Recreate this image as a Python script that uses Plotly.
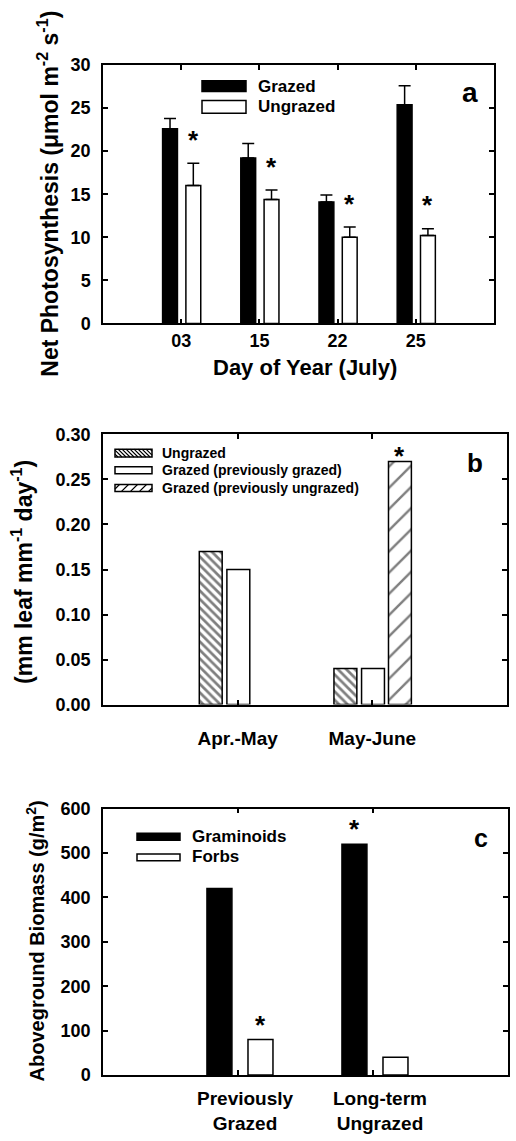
import plotly.graph_objects as go

W, H = 516, 1141
FONT = "Liberation Sans, Arial, sans-serif"

# ---------------- data ----------------
# Panel a: net photosynthesis
days = ["03", "15", "22", "25"]
grazed_a = [22.6, 19.2, 14.1, 25.4]
grazed_a_err = [1.2, 1.7, 0.8, 2.2]
ungrazed_a = [16.0, 14.4, 10.0, 10.2]
ungrazed_a_err = [2.6, 1.1, 1.2, 0.8]
star_a = [True, True, True, True]          # significance mark over ungrazed bars

# Panel b: leaf elongation
periods = ["Apr.-May", "May-June"]
ungrazed_b = [0.17, 0.04]
grazed_prev_grazed_b = [0.15, 0.04]
grazed_prev_ungrazed_b = [None, 0.27]
star_b = [False, True]                      # over "grazed (previously ungrazed)"

# Panel c: aboveground biomass
sites = ["Previously<br>Grazed", "Long-term<br>Ungrazed"]
graminoids_c = [420, 520]
forbs_c = [80, 40]
star_gram_c = [False, True]
star_forbs_c = [True, False]

legend_a = ["Grazed", "Ungrazed"]
legend_b = ["Ungrazed", "Grazed (previously grazed)", "Grazed (previously ungrazed)"]
legend_c = ["Graminoids", "Forbs"]


def X(px):
    return px / W


def Y(py):
    return 1 - py / H


fig = go.Figure()

bar_line = dict(color="black", width=1.5)
err_style = dict(type="data", symmetric=False, color="black", thickness=1.5, width=6)

# ---- panel a ----
fig.add_trace(go.Bar(
    x=days, y=grazed_a, width=0.19, offset=-0.238,
    marker=dict(color="black", line=bar_line),
    error_y=dict(array=grazed_a_err, arrayminus=[0] * len(days), **err_style),
    xaxis="x", yaxis="y", showlegend=False))
fig.add_trace(go.Bar(
    x=days, y=ungrazed_a, width=0.19, offset=0.06,
    marker=dict(color="white", line=bar_line),
    error_y=dict(array=ungrazed_a_err, arrayminus=[0] * len(days), **err_style),
    xaxis="x", yaxis="y", showlegend=False))

# ---- panel b ----
fig.add_trace(go.Bar(
    x=periods, y=ungrazed_b, width=0.17, offset=-0.285,
    marker=dict(color="white", line=bar_line,
                pattern=dict(shape="\\", size=6, solidity=0.45, fgcolor="black", bgcolor="white")),
    xaxis="x2", yaxis="y2", showlegend=False))
fig.add_trace(go.Bar(
    x=periods, y=grazed_prev_grazed_b, width=0.17, offset=-0.08,
    marker=dict(color="white", line=bar_line),
    xaxis="x2", yaxis="y2", showlegend=False))
fig.add_trace(go.Bar(
    x=periods, y=grazed_prev_ungrazed_b, width=0.17, offset=0.12,
    marker=dict(color="white", line=bar_line,
                pattern=dict(shape="/", size=15, solidity=0.16, fgcolor="black", bgcolor="white")),
    xaxis="x2", yaxis="y2", showlegend=False))

# ---- panel c ----
fig.add_trace(go.Bar(
    x=sites, y=graminoids_c, width=0.185, offset=-0.23,
    marker=dict(color="black", line=bar_line),
    xaxis="x3", yaxis="y3", showlegend=False))
fig.add_trace(go.Bar(
    x=sites, y=forbs_c, width=0.185, offset=0.074,
    marker=dict(color="white", line=bar_line),
    xaxis="x3", yaxis="y3", showlegend=False))

tickfont = dict(family=FONT, size=18, color="black", weight="bold")
axis_common = dict(showline=True, linecolor="black", linewidth=1.5, mirror="ticks",
                   ticks="inside", ticklen=5, tickwidth=1.5, tickcolor="black",
                   showgrid=False, zeroline=False, tickfont=tickfont, fixedrange=True)

fig.update_layout(
    width=W, height=H, margin=dict(l=0, r=0, t=0, b=0),
    paper_bgcolor="white", plot_bgcolor="white", barmode="overlay",
    xaxis=dict(domain=[X(103), X(494)], anchor="y", type="category", range=[-1, 4],
               **axis_common),
    yaxis=dict(domain=[Y(319), Y(56)], anchor="x", range=[0, 30], dtick=5,
               ticklabelstandoff=7, **axis_common),
    xaxis2=dict(domain=[X(103), X(507)], anchor="y2", type="category", range=[-1, 2],
                ticklabelstandoff=16,
                **{**axis_common, "tickfont": dict(family=FONT, size=19, color="black", weight="bold")}),
    yaxis2=dict(domain=[Y(707), Y(432)], anchor="x2", range=[0, 0.30], dtick=0.05, tickformat=".2f",
                ticklabelstandoff=7, **axis_common),
    xaxis3=dict(domain=[X(103), X(508)], anchor="y3", type="category", range=[-1, 2],
                showticklabels=False, **axis_common),
    yaxis3=dict(domain=[Y(1084), Y(813)], anchor="x3", range=[0, 600], dtick=100,
                ticklabelstandoff=7, **axis_common),
)

ann = []
shapes = []


def text(x, y, s, size, bold=True, xanchor="center", yanchor="middle", angle=0):
    ann.append(dict(x=X(x), y=Y(y), xref="paper", yref="paper", text=s, showarrow=False,
                    xanchor=xanchor, yanchor=yanchor, textangle=angle,
                    font=dict(family=FONT, size=size, color="black",
                              weight="bold" if bold else "normal")))


def star(xref, yref, x, y, size=26):
    ann.append(dict(x=x, y=y, xref=xref, yref=yref, text="*", showarrow=False,
                    xanchor="center", yanchor="middle", yshift=-6,
                    font=dict(family=FONT, size=size, color="black", weight="bold")))


def hatch(x0, x1, y0, y1, step, direction):
    parts = []
    if direction == "\\":
        c = (y0 - x1) + step / 2
        while c < y1 - x0:
            xa, xb = max(x0, y0 - c), min(x1, y1 - c)
            if xb > xa:
                parts.append(f"M{X(xa):.5f},{Y(xa + c):.5f} L{X(xb):.5f},{Y(xb + c):.5f}")
            c += step
    else:
        c = (x0 + y0) + step / 2
        while c < x1 + y1:
            xa, xb = max(x0, c - y1), min(x1, c - y0)
            if xb > xa:
                parts.append(f"M{X(xa):.5f},{Y(c - xa):.5f} L{X(xb):.5f},{Y(c - xb):.5f}")
            c += step
    shapes.append(dict(type="path", xref="paper", yref="paper", path=" ".join(parts),
                       line=dict(color="black", width=1.2)))


def swatch(x0, x1, y0, y1, fill, pattern=None, step=4):
    shapes.append(dict(type="rect", xref="paper", yref="paper", x0=X(x0), x1=X(x1), y0=Y(y1), y1=Y(y0),
                       fillcolor=fill, line=dict(color="black", width=1.5)))
    if pattern:
        hatch(x0, x1, y0, y1, step, pattern)


# stars, panel a
for i, s in enumerate(star_a):
    if s:
        star("x", "y", i + 0.155, ungrazed_a[i] + ungrazed_a_err[i] + 3.4)
# stars, panel b
for i, s in enumerate(star_b):
    if s:
        star("x2", "y2", i + 0.205, grazed_prev_ungrazed_b[i] + 0.0125)
# stars, panel c
for i, s in enumerate(star_gram_c):
    if s:
        star("x3", "y3", i - 0.1375, graminoids_c[i] + 47)
for i, s in enumerate(star_forbs_c):
    if s:
        star("x3", "y3", i + 0.1665, forbs_c[i] + 47)

# panel c category labels (two lines each)
for i, lab in enumerate(sites):
    ann.append(dict(x=i, y=Y(1121), xref="x3", yref="paper", text=lab, showarrow=False,
                    xanchor="center", yanchor="middle", xshift=7,
                    font=dict(family=FONT, size=19, color="black", weight="bold")))

# axis titles
text(48, 187, "Net Photosynthesis (μmol m<sup>-2</sup> s<sup>-1</sup>)", 23, angle=-90)
text(305, 364, "Day of Year (July)", 22)
text(22, 572, "(mm leaf mm<sup>-1</sup> day<sup>-1</sup>)", 23, angle=-90)
text(35, 948, "Aboveground Biomass (g/m<sup>2</sup>)", 20, angle=-90)

# panel letters
text(470, 84, "a", 28)
text(474.5, 461.5, "b", 26)
text(480.5, 842.5, "c", 25)

# legend a
swatch(202, 246, 72, 83, "black")
swatch(202, 246, 92, 105, "white")
text(256, 77.5, legend_a[0], 17, xanchor="left")
text(256, 98.5, legend_a[1], 17, xanchor="left")

# legend b
swatch(115, 152, 447, 455, "white", "\\", 4)
swatch(115, 152, 465, 472, "white")
swatch(115, 152, 483, 490, "white", "/", 9)
text(160, 451, legend_b[0], 14, xanchor="left")
text(160, 468.5, legend_b[1], 14, xanchor="left")
text(160, 486.5, legend_b[2], 14, xanchor="left")

# legend c
swatch(137, 180, 838, 845, "black")
swatch(137, 180, 859, 866, "white")
text(190, 841.5, legend_c[0], 17, xanchor="left")
text(190, 861.5, legend_c[1], 17, xanchor="left")

fig.update_layout(annotations=ann, shapes=shapes)
fig.write_html("out.html", config={"displayModeBar": False},
               post_script="document.body.style.margin='0';document.body.style.overflow='hidden';")
